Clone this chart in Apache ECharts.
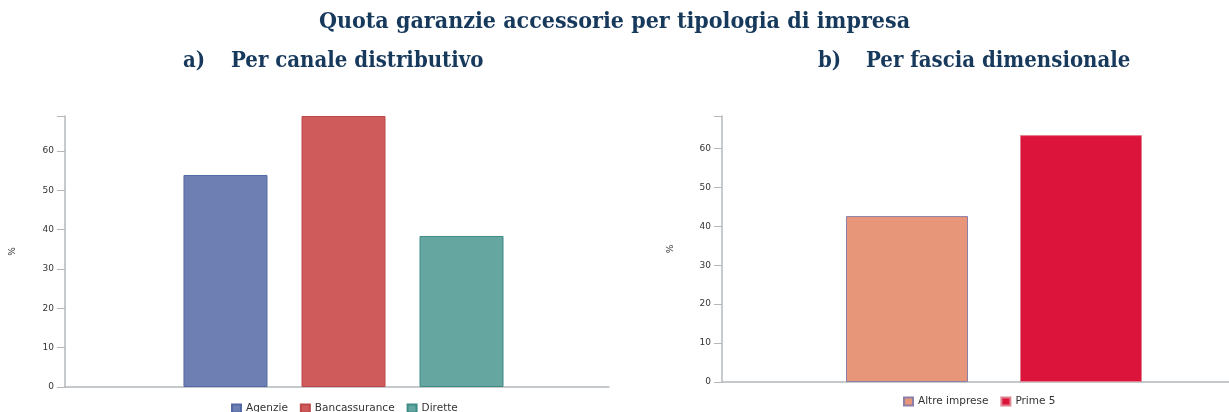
<!DOCTYPE html>
<html>
<head>
<meta charset="utf-8">
<script src="https://cdn.jsdelivr.net/npm/echarts@6/dist/echarts.min.js"></script>
<style>
html,body{margin:0;padding:0;background:#fff;}
#c{width:1229px;height:412px;}
</style>
</head>
<body>
<div id="c"></div>
<script>
// Data
const mainTitle = 'Quota garanzie accessorie per tipologia di impresa';
const subA = ['a)', 'Per canale distributivo'];
const subB = ['b)', 'Per fascia dimensionale'];
const seriesA = ['Agenzie', 'Bancassurance', 'Dirette'];
const valuesA = [53.9, 68.9, 38.4];
const seriesB = ['Altre imprese', 'Prime 5'];
const valuesB = [42.6, 63.4];
const yMaxA = 68.9;
const yMaxB = 68.3;
const yTicks = [0, 10, 20, 30, 40, 50, 60];
const axisName = '%';

const colorsA = ['#6E7FB4', '#D05B5B', '#66A6A0'];
const bordersA = ['#5468A6', '#BD4848', '#3E8C86'];
const colorsB = ['#E8967A', '#DC143C'];
const bordersB = ['#8E7FA8', '#E0808F'];

const titleColor = '#17395C';
const serif = '"DejaVu Serif Condensed", "DejaVu Serif", serif';
const sans = '"DejaVu Sans", sans-serif';

const chart = echarts.init(document.getElementById('c'));

function yAxis(gridIndex, max, gap) {
  return {
    type: 'value', gridIndex, min: 0, max, interval: 10,
    name: axisName, nameLocation: 'middle', nameGap: gap, nameRotate: 90,
    nameTextStyle: {fontSize: 9, color: '#333', fontFamily: sans},
    splitLine: {show: false},
    axisLine: {show: true, lineStyle: {color: '#B4B8BB', width: 1.5}},
    axisTick: {show: true, length: 8, lineStyle: {color: '#B4B8BB'}},
    axisLabel: {fontSize: 9, color: '#333', fontFamily: sans, margin: 11,
      formatter: v => (yTicks.indexOf(v) >= 0 ? String(v) : '')}
  };
}

const series = [];
seriesA.forEach((n, i) => series.push({
  name: n, type: 'bar', xAxisIndex: 0, yAxisIndex: 0,
  data: [valuesA[i]], barWidth: 84, barGap: '40.5%',
  itemStyle: {color: colorsA[i], borderColor: bordersA[i], borderWidth: 1},
  emphasis: {disabled: true}
}));
seriesB.forEach((n, i) => series.push({
  name: n, type: 'bar', xAxisIndex: 1, yAxisIndex: 1,
  data: [valuesB[i]], barWidth: 122, barGap: '42.6%',
  itemStyle: {color: colorsB[i], borderColor: bordersB[i], borderWidth: 1},
  emphasis: {disabled: true}
}));

const subStyle = {fontFamily: serif, fontWeight: 'bold', fontSize: 22, color: titleColor};
const legendText = {fontSize: 10.5, color: '#333', fontFamily: sans};

const option = {
  animation: false,
  backgroundColor: '#fff',
  title: [
    {text: mainTitle, left: 'center', top: 6,
     textStyle: {fontFamily: serif, fontWeight: 'bold', fontSize: 23, color: titleColor}},
    {text: subA[0], left: 183, top: 50, padding: 0, textStyle: subStyle},
    {text: subA[1], left: 231, top: 50, padding: 0, textStyle: subStyle},
    {text: subB[0], left: 818, top: 50, padding: 0, textStyle: subStyle},
    {text: subB[1], left: 866, top: 50, padding: 0, textStyle: subStyle}
  ],
  legend: [
    {data: seriesA, left: 231, top: 403, padding: 0, icon: 'rect', itemWidth: 9, itemHeight: 8, itemGap: 12,
     textStyle: legendText},
    {data: seriesB, left: 903, top: 396, padding: 0, icon: 'rect', itemWidth: 9, itemHeight: 8, itemGap: 12,
     textStyle: legendText}
  ],
  grid: [
    {left: 65, top: 116, width: 557, bottom: 25, outerBoundsMode: 'none', containLabel: false},
    {left: 722, top: 116, width: 544, bottom: 30, outerBoundsMode: 'none', containLabel: false},
    {left: 65, top: 116, width: 544, bottom: 25, outerBoundsMode: 'none', containLabel: false}
  ],
  xAxis: [
    {type: 'category', gridIndex: 0, data: [''], axisLine: {show: false},
     axisTick: {show: false}, axisLabel: {show: false}},
    {type: 'category', gridIndex: 1, data: [''],
     axisLine: {show: true, lineStyle: {color: '#B4B8BB', width: 1.5}},
     axisTick: {show: false}, axisLabel: {show: false}},
    {type: 'category', gridIndex: 2, data: [''], z: 1,
     axisLine: {show: true, lineStyle: {color: '#B4B8BB', width: 1.5}},
     axisTick: {show: false}, axisLabel: {show: false}}
  ],
  yAxis: [
    yAxis(0, yMaxA, 48),
    yAxis(1, yMaxB, 47),
    {type: 'value', gridIndex: 2, min: 0, max: yMaxA, show: false}
  ],
  series: series
};
chart.setOption(option);
</script>
</body>
</html>
